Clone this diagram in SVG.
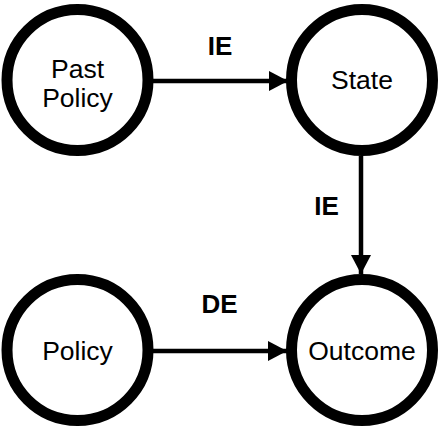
<svg xmlns="http://www.w3.org/2000/svg" width="440" height="430" viewBox="0 0 440 430">
<defs>
<style>
.node circle{fill:#fff;stroke:#000;stroke-width:11}
.node text{font-family:"Liberation Sans",Arial,sans-serif;font-size:26.5px;text-anchor:middle;fill:#000}
.edge line{stroke:#000;stroke-width:4.5}
.lbl{font-family:"Liberation Sans",Arial,sans-serif;font-size:26px;font-weight:bold;text-anchor:middle;fill:#000}
</style>
<marker id="arr" viewBox="0 0 19 20" refX="19" refY="10" markerWidth="19" markerHeight="20" markerUnits="userSpaceOnUse" orient="auto">
<path d="M0,0 L19,10 L0,20 Z" fill="#000"/>
</marker>
</defs>
<rect width="440" height="430" fill="#fff"/>
<g id="connectors" class="edge">
<line x1="153" y1="81" x2="288" y2="81" marker-end="url(#arr)"/>
<line x1="361" y1="156" x2="361" y2="274" marker-end="url(#arr)"/>
<line x1="153" y1="351" x2="287" y2="351" marker-end="url(#arr)"/>
<text class="lbl" x="220" y="54.5">IE</text>
<text class="lbl" x="326.5" y="215">IE</text>
<text class="lbl" x="219.5" y="313">DE</text>
</g>
<g id="past-policy" class="node">
<circle cx="77.5" cy="80" r="70.5"/>
<text x="77.5" y="78">Past</text>
<text x="77.5" y="107">Policy</text>
</g>
<g id="state" class="node">
<circle cx="362" cy="80" r="70.5"/>
<text x="362" y="89">State</text>
</g>
<g id="policy" class="node">
<circle cx="77.5" cy="350" r="70.5"/>
<text x="77.5" y="359.5">Policy</text>
</g>
<g id="outcome" class="node">
<circle cx="362" cy="350" r="70.5"/>
<text x="362" y="359.5">Outcome</text>
</g>
</svg>
